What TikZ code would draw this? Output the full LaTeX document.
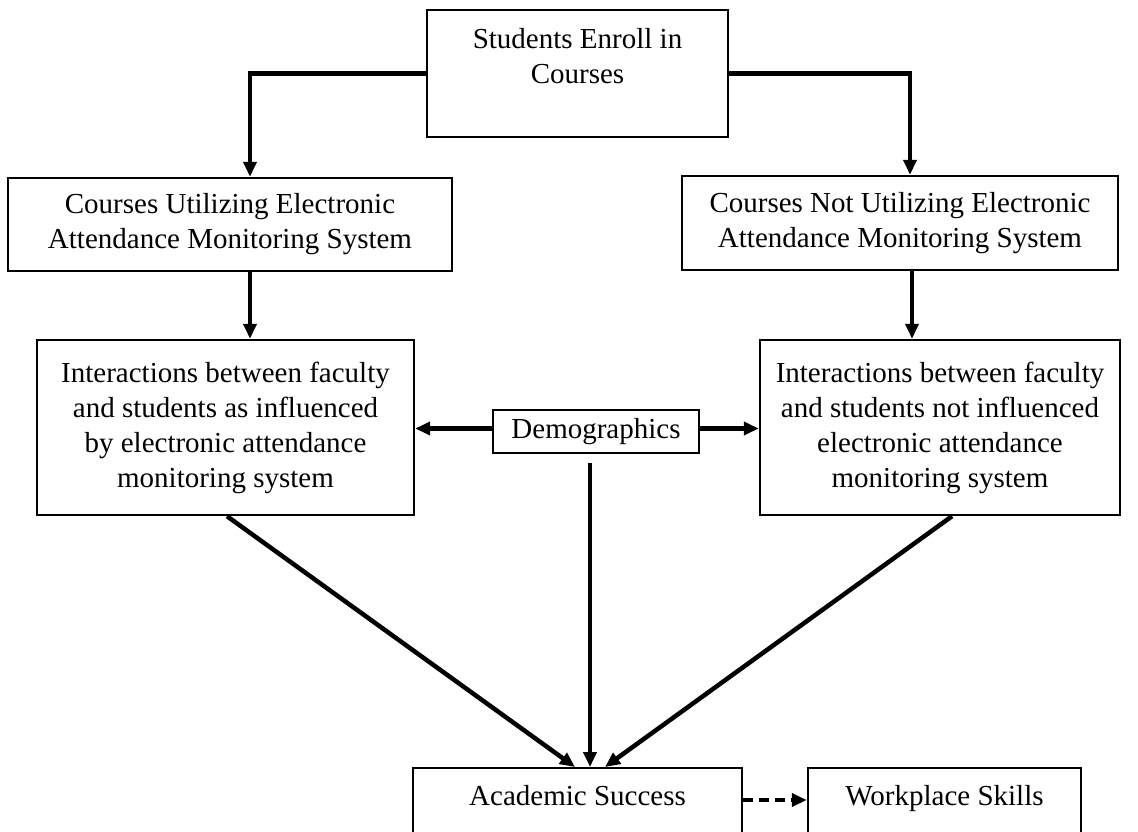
\documentclass[tikz,border=0pt]{standalone}
\usepackage{fontspec}
\setmainfont{Liberation Serif}
\usetikzlibrary{arrows.meta, positioning}

\begin{document}
\begin{tikzpicture}[x=1pt, y=-1pt,
		box/.style={draw, line width=2.4pt, align=center, inner sep=4pt, font=\fontsize{29}{35}\selectfont},
		flow/.style={line width=4.5pt, -{Triangle[length=15pt, width=13pt]}},
		dashflow/.style={flow, dash pattern=on 10pt off 6pt}]
			\useasboundingbox (0,0) rectangle (1138,831);
			\node[box, minimum width=301pt, minimum height=127pt] (enroll) at (577.5,73.5) {Students Enroll in\\Courses\\~};
			\node[box, minimum width=444pt, minimum height=93pt] (cul) at (230,224.5) {Courses Utilizing Electronic\\Attendance Monitoring System};
			\node[box, minimum width=436pt, minimum height=94pt] (cnu) at (900,223) {Courses Not Utilizing Electronic\\Attendance Monitoring System};
			\node[box, minimum width=377pt, minimum height=175pt] (lint) at (225.5,427.5) {Interactions between faculty\\and students as influenced\\by electronic attendance\\monitoring system};
			\node[box, minimum width=360pt, minimum height=175pt] (rint) at (940,427.5) {Interactions between faculty\\and students not influenced\\electronic attendance\\monitoring system};
			\node[box, minimum width=206pt, minimum height=43pt] (demo) at (596,431.5) {Demographics};
			\node[box, anchor=north, minimum width=329pt, text height=33pt, text depth=70pt] (acad) at (577.5,767) {Academic Success};
			\node[box, anchor=north, minimum width=273pt, text height=33pt, text depth=70pt] (work) at (944.5,767) {Workplace Skills};
			\draw[flow] (enroll.west) -| ([xshift=20pt]cul.north);
			\draw[flow] (enroll.east) -| ([xshift=10pt]cnu.north);
			\draw[flow] ([xshift=20pt]cul.south) -- ([xshift=20pt]cul.south |- lint.north);
			\draw[flow] ([xshift=12pt]cnu.south) -- ([xshift=12pt]cnu.south |- rint.north);
			\draw[flow] ([yshift=3pt]demo.west) -- ([yshift=3pt]demo.west -| lint.east);
			\draw[flow] ([yshift=3pt]demo.east) -- ([yshift=3pt]demo.east -| rint.west);
			\draw[flow] ([xshift=-6pt, yshift=-9pt]demo.south) -- ([xshift=-6pt]demo.south |- acad.north);
			\draw[flow] ([xshift=1.5pt]lint.south) -- ([xshift=-2.5pt]acad.north);
			\draw[flow] ([xshift=12pt]rint.south) -- ([xshift=27.5pt]acad.north);
			\draw[dashflow] ([yshift=-33pt]acad.north east) -- ([yshift=-33pt]work.north west);
		\end{tikzpicture}
\end{document}
